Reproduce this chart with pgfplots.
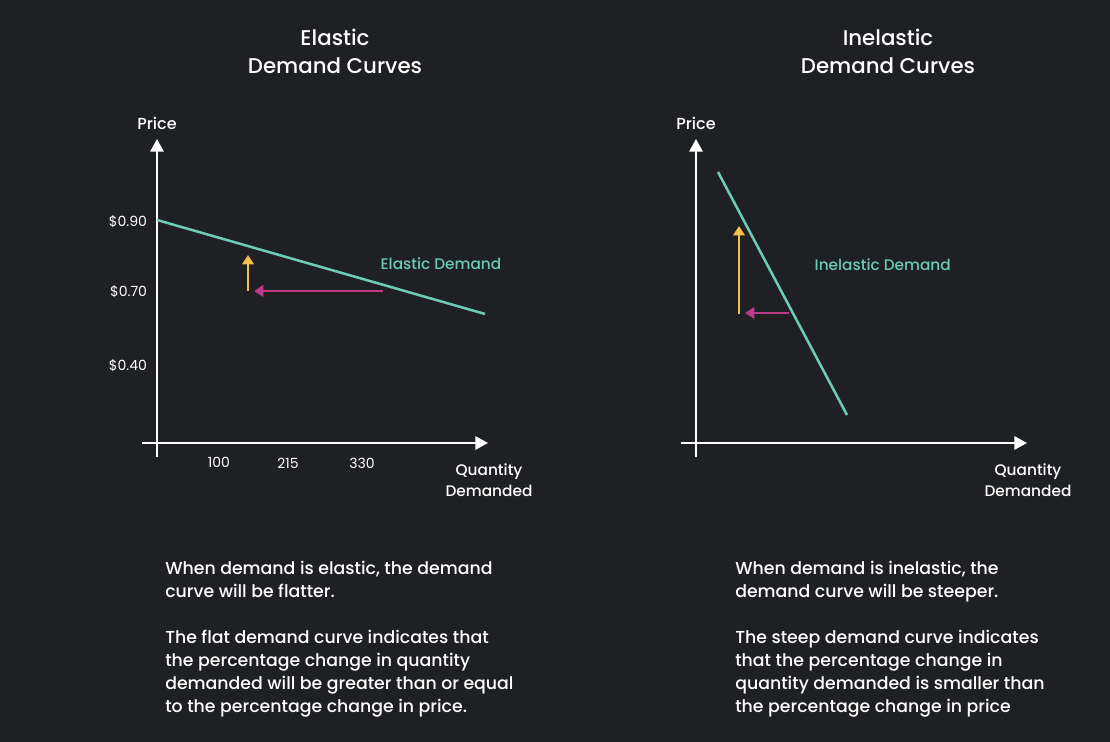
\documentclass[border=0pt]{standalone}
\usepackage{fontspec}
\setmainfont{Poppins}
\newfontfamily\mediumfont{Poppins Medium}
\usepackage{pgfplots}
\pgfplotsset{compat=1.18}
\usetikzlibrary{arrows.meta}

\definecolor{bg}{HTML}{1F2023}
\definecolor{curve}{HTML}{6CCBB6}
\definecolor{pricearrow}{HTML}{F3C24A}
\definecolor{qtyarrow}{HTML}{BC3A88}

\pgfplotsset{
  demand axis/.style={
    x=0.75pt, y=0.75pt,
    anchor=origin,
    axis lines=middle,
    xmin=-15, xmax=331, ymin=-14, ymax=304,
    axis line style={white, line width=1.6pt},
    every inner x axis line/.append style={-{Triangle[width=10pt,length=9.5pt]}},
    every inner y axis line/.append style={-{Triangle[width=10pt,length=9.5pt]}},
    major tick length=0pt,
    tick style={draw=none},
    ticklabel style={white, font=\fontsize{10.5}{12}\selectfont},
    clip=false,
  },
  shift arrow/.style={line width=1.9pt, -{Triangle[width=8.5pt,length=7pt]}},
}

\begin{document}
\begin{tikzpicture}[x=0.75pt, y=0.75pt]
\fill[bg] (0,0) rectangle (1110,742);

% titles
\node[white, align=center, font=\mediumfont\fontsize{16}{21}\selectfont] at (335,691) {Elastic\\Demand Curves};
\node[white, align=center, font=\mediumfont\fontsize{16}{21}\selectfont] at (888,691) {Inelastic\\Demand Curves};

% elastic demand
\begin{axis}[demand axis, at={(157,299)},
  xtick={62,131,205}, xticklabels={100,215,330},
  ytick={77,151,221}, yticklabels={\$0.40,\$0.70,\$0.90},
  x tick label style={yshift=-7.5pt},
  y tick label style={xshift=-4pt},
]
\addplot[curve, line width=1.9pt] coordinates {(0,223) (328,129)};
\addplot[qtyarrow, shift arrow] coordinates {(226,152) (97,152)};
\addplot[pricearrow, shift arrow] coordinates {(91,152) (91,188)};
\node[curve, anchor=west, font=\mediumfont\fontsize{11.5}{14}\selectfont] at (axis cs:219,179) {Elastic Demand};
\node[white, font=\mediumfont\fontsize{12}{13}\selectfont] at (axis cs:0,320) {Price};
\node[white, align=center, font=\mediumfont\fontsize{11.5}{15.75}\selectfont] at (axis cs:332,-37) {Quantity\\Demanded};
\end{axis}

% inelastic demand
\begin{axis}[demand axis, at={(696,299)},
  xtick=\empty, ytick=\empty,
]
\addplot[curve, line width=1.9pt] coordinates {(22,271) (151,28)};
\addplot[qtyarrow, shift arrow] coordinates {(93,130) (49,130)};
\addplot[pricearrow, shift arrow] coordinates {(43,129) (43,217)};
\node[curve, anchor=west, font=\mediumfont\fontsize{11.5}{14}\selectfont] at (axis cs:114,178) {Inelastic Demand};
\node[white, font=\mediumfont\fontsize{12}{13}\selectfont] at (axis cs:0,320) {Price};
\node[white, align=center, font=\mediumfont\fontsize{11.5}{15.75}\selectfont] at (axis cs:332,-37) {Quantity\\Demanded};
\end{axis}

% notes
\node[white, anchor=north west, align=left, inner sep=0pt, font=\mediumfont\fontsize{13}{17.25}\selectfont] at (165,181)
{When demand is elastic, the demand\\curve will be flatter.\\[17.25pt]The flat demand curve indicates that\\the percentage change in quantity\\demanded will be greater than or equal\\to the percentage change in price.};
\node[white, anchor=north west, align=left, inner sep=0pt, font=\mediumfont\fontsize{13}{17.25}\selectfont] at (735,181)
{When demand is inelastic, the\\demand curve will be steeper.\\[17.25pt]The steep demand curve indicates\\that the percentage change in\\quantity demanded is smaller than\\the percentage change in price};
\end{tikzpicture}
\end{document}
